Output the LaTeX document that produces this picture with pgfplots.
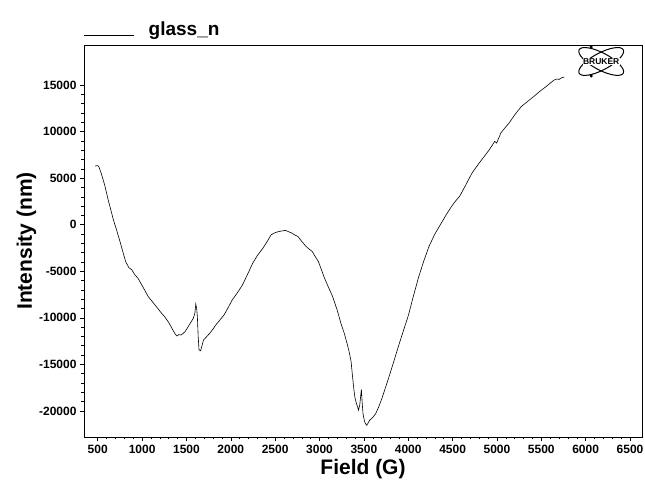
\documentclass[border=0pt]{standalone}
\usepackage{pgfplots}
\pgfplotsset{compat=1.18}
\usepackage{fontspec}
\setmainfont{Liberation Sans}
\begin{document}
\begin{tikzpicture}
\begin{axis}[
  scale only axis,
  width=558pt, height=392pt,
  xmin=345, xmax=6635,
  ymin=-22800, ymax=19300,
  xtick={500,1000,...,6500},
  ytick={-20000,-15000,...,15000},
  scaled y ticks=false, scaled x ticks=false,
  minor x tick num=4,
  minor y tick num=4,
  tick align=outside,
  xtick pos=left, ytick pos=left,
  major tick length=4pt, minor tick length=2.5pt,
  tick style={black, line width=0.5pt},
  axis line style={line width=0.8pt},
  /pgf/number format/assume math mode=true,
  /pgf/number format/set thousands separator={},
  ticklabel style={font=\fontsize{12}{13}\selectfont\bfseries},
  xticklabel style={yshift=-1pt},
  xlabel={Field (G)},
  ylabel={Intensity (nm)},
  label style={font=\fontsize{21}{23}\selectfont\bfseries},
  xlabel style={yshift=2pt},
  ylabel style={yshift=-4pt},
  legend style={at={(rel axis cs:0,1)}, anchor=south west, draw=none, fill=none,
    font=\fontsize{19}{21}\selectfont\bfseries, inner sep=0pt, yshift=6pt},
  legend image code/.code={\draw[black, line width=0.5pt] (0pt,-6pt) -- (50pt,-6pt);},
  legend cell align=left,
]
\addplot[black, line width=0.6pt] coordinates {
(470,6300) (500,6350) (514,6200) (540,5500) (580,4200) (616,2718) (650,1500) (676,538) (710,-500) (745,-1615)
(780,-2800) (814,-3950) (850,-4600) (884,-4850) (920,-5400) (953,-5744) (1010,-6700) (1069,-7720)
(1110,-8200) (1161,-8800) (1210,-9400) (1253,-9870) (1300,-10500) (1346,-11300) (1370,-11700)
(1392,-11950) (1415,-11800) (1438,-11850) (1460,-11700) (1484,-11490) (1510,-11100) (1531,-10770)
(1555,-10400) (1577,-10050) (1595,-9500) (1605,-8510) (1615,-9000) (1623,-9870) (1632,-12000)
(1642,-13460) (1660,-13530) (1675,-13000) (1692,-12390) (1730,-12000) (1762,-11670) (1800,-11200)
(1831,-10770) (1880,-10200) (1924,-9690) (1970,-8900) (2016,-8080) (2075,-7300) (2132,-6460)
(2190,-5300) (2247,-4130) (2300,-3300) (2363,-2510) (2410,-1800) (2455,-1080) (2500,-850)
(2548,-718) (2590,-650) (2617,-610) (2650,-750) (2687,-900) (2720,-1100) (2756,-1260) (2800,-1800)
(2848,-2330) (2880,-2600) (2917,-2870) (2950,-3400) (2987,-3950) (3020,-4800) (3056,-5740)
(3100,-6700) (3148,-7720) (3200,-9200) (3241,-10590) (3280,-11700) (3310,-12740) (3335,-13700)
(3356,-14720) (3372,-16300) (3388,-17770) (3400,-18600) (3416,-19200) (3430,-19600) (3439,-19920)
(3453,-19390) (3465,-18300) (3472,-17700) (3480,-19000) (3490,-20280) (3500,-20800) (3509,-21180)
(3520,-21400) (3532,-21540) (3548,-21300) (3564,-21000) (3600,-20700) (3634,-20280) (3670,-19500)
(3703,-18670) (3750,-17300) (3795,-15980) (3840,-14600) (3888,-13100) (3945,-11400) (4003,-9690)
(4060,-7600) (4119,-5560) (4175,-3900) (4234,-2330) (4300,-1000) (4373,180) (4430,1100)
(4489,1975) (4530,2500) (4581,3074) (4650,4300) (4720,5566) (4790,6500) (4858,7346) (4910,8000)
(4951,8592) (4974,8948) (4997,8770) (5020,9300) (5043,9838) (5090,10400) (5136,10906) (5200,11800)
(5274,12686) (5340,13200) (5413,13754) (5480,14300) (5552,14822) (5600,15200) (5644,15534)
(5680,15650) (5700,15600) (5736,15819) (5760,15850)
};
\addlegendentry{\hspace{12pt}glass\_n}
\coordinate (logo) at (axis cs:6175,17530);
\end{axis}
\begin{scope}[shift={(logo)}]
  \draw[black, line width=1pt, rotate=28] (0,0) ellipse (25pt and 8.5pt);
  \draw[black, line width=1pt, rotate=-28] (0,0) ellipse (25pt and 8.5pt);
  \fill[black] (-10pt,14.5pt) circle (1.7pt);
  \fill[black] (-10pt,-14.5pt) circle (1.7pt);
  \node[fill=white, inner sep=0.4pt, font=\fontsize{8.5}{9}\selectfont\bfseries] at (0,0) {BRUKER};
\end{scope}
\pgfresetboundingbox
\path ([shift={(-84pt,-50pt)}]current axis.south west) rectangle ([shift={(3pt,45pt)}]current axis.north east);
\end{tikzpicture}
\end{document}
